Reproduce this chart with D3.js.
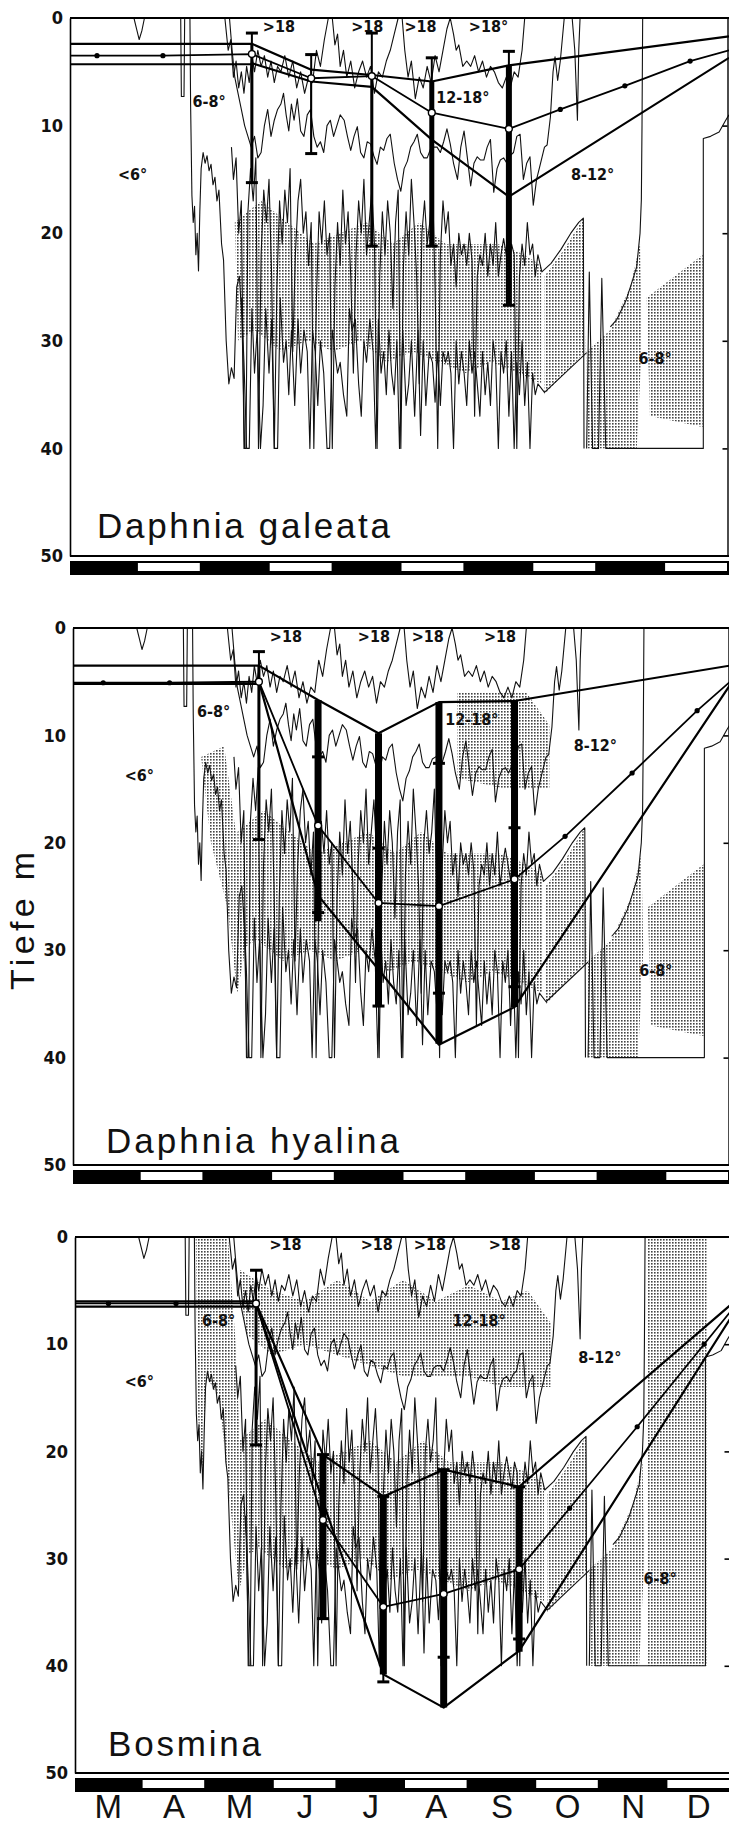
<!DOCTYPE html>
<html>
<head>
<meta charset="utf-8">
<script src="https://cdn.jsdelivr.net/npm/d3@7"></script>
<style>
  body { margin: 0; background: #fff; }
  svg { display: block; }
</style>
</head>
<body>
<div id="chart"></div>
<script>
// ---- data (month index 0 = start of March, depth in m) ----
const months = ["M", "A", "M", "J", "J", "A", "S", "O", "N", "D"];
const depthTicks = [0, 10, 20, 30, 40, 50];

// Daphnia galeata
const dates1 = [2.76, 3.66, 4.58, 5.49, 6.66];
const upper1 = [2.4, 4.8, 5.3, 5.9, 4.4];
const mean1 = [3.35, 5.6, 5.4, 8.8, 10.3];
const lower1 = [4.2, 5.9, 6.4, 11.3, 16.6];
const start1 = [2.4, 3.5, 4.3];
const end1 = [1.7, 3.0, 3.7];
const winterDots1 = [[0.41, 3.5], [1.41, 3.5]];
const autumnDots1 = [[7.44, 8.5], [8.42, 6.3], [9.41, 4.0]];
const errLo1 = [1.4, 3.4, 1.4, 3.7, 3.1];
const errHi1 = [15.3, 12.6, 21.2, 21.2, 26.7];
const thickLo1 = [2.4, 4.8, 5.3, 5.9, 4.4];
const thickHi1 = [15.3, 12.6, 21.2, 21.2, 26.7];

// Daphnia hyalina
const dates2 = [2.83, 3.73, 4.65, 5.57, 6.72];
const upper2 = [3.5, 6.7, 9.8, 6.9, 6.8];
const mean2 = [5.0, 18.4, 25.6, 25.9, 23.4];
const lower2 = [5.0, 24.9, 31.8, 38.8, 35.3];
const start2 = [3.5, 5.1, 5.2];
const end2 = [3.5, 5.0, 5.3];
const winterDots2 = [[0.46, 5.1], [1.47, 5.1]];
const autumnDots2 = [[7.49, 19.4], [8.51, 13.5], [9.5, 7.7]];
const errLo2 = [2.2, 12.0, 20.5, 12.6, 18.6];
const errHi2 = [19.7, 26.5, 35.2, 34.0, 33.4];
const thickLo2 = [3.5, 6.7, 9.8, 6.9, 6.8];
const thickHi2 = [19.7, 27.3, 35.3, 38.7, 35.3];

// Bosmina
const dates3 = [2.76, 3.78, 4.70, 5.62, 6.77];
const upper3 = [6.2, 20.3, 24.2, 21.7, 23.3];
const mean3 = [6.2, 26.4, 34.5, 33.3, 31.0];
const lower3 = [6.2, 24.7, 40.8, 43.9, 38.6];
const start3 = [6.0, 6.2, 6.5];
const end3 = [6.3, 6.9, 7.5];
const winterDots3 = [[0.51, 6.2], [1.54, 6.2]];
const autumnDots3 = [[7.54, 25.3], [8.57, 17.7], [9.59, 10.0]];
const errLo3 = [3.1, 20.3, 24.2, 21.7, 23.3];
const errHi3 = [19.4, 35.6, 41.5, 39.2, 37.5];
const thickLo3 = [6.2, 20.3, 24.2, 21.7, 23.3];
const thickHi3 = [19.4, 35.6, 40.8, 43.9, 38.7];

// isotherms (same lake temperatures under every panel)
const isoDip = [[0.97, 0], [1.01, 1], [1.05, 2.0], [1.09, 1.2], [1.13, 0]];
const isoSpike6 = [[1.68, 0], [1.69, 7.3], [1.73, 7.3], [1.74, 0]];
const iso6 = [[1.82, 0], [1.83, 8], [1.85, 16.5], [1.87, 19], [1.89, 17.5], [1.91, 22], [1.93, 20], [1.95, 23.5],
  [1.97, 18], [1.99, 14], [2.02, 12.5], [2.05, 13.5], [2.08, 12.8], [2.11, 14.2], [2.14, 13.6], [2.17, 15.5],
  [2.2, 14.8], [2.23, 17], [2.26, 16], [2.3, 21], [2.33, 22.5], [2.37, 30], [2.41, 34], [2.45, 32.5],
  [2.49, 33.5], [2.53, 25], [2.57, 24], [2.61, 28], [2.65, 40]];
const iso18 = [[2.35, 0], [2.4, 3], [2.44, 2], [2.48, 5.5], [2.52, 4], [2.56, 6.5], [2.6, 5], [2.64, 7], [2.68, 4.5],
  [2.72, 6], [2.76, 3.5], [2.8, 5], [2.85, 3], [2.9, 4.5], [2.95, 3.5], [3.0, 5.5], [3.05, 4], [3.1, 6], [3.15, 4.5],
  [3.2, 5], [3.26, 3.5], [3.32, 5.5], [3.38, 4], [3.44, 6.5], [3.5, 5], [3.56, 7], [3.62, 5.5], [3.68, 6], [3.74, 3],
  [3.8, 4.5], [3.86, 2], [3.92, 0], [3.98, 0], [4.02, 2.5], [4.06, 1.5], [4.1, 4.5], [4.15, 3], [4.2, 5.5], [4.26, 4],
  [4.32, 6.5], [4.38, 5], [4.44, 4], [4.5, 5.5], [4.56, 4.5], [4.62, 7], [4.68, 5], [4.74, 5.5], [4.8, 4], [4.86, 3],
  [4.92, 1.5], [4.98, 0], [5.04, 0], [5.08, 3], [5.13, 5.5], [5.18, 4], [5.24, 7.5], [5.3, 5.5], [5.36, 6.5],
  [5.42, 4.5], [5.48, 6], [5.54, 3.5], [5.6, 5], [5.66, 3], [5.72, 1], [5.77, 0], [5.82, 1.5], [5.86, 3], [5.9, 2.5],
  [5.96, 4.5], [6.02, 4], [6.08, 4.5], [6.14, 3.5], [6.2, 5], [6.26, 4], [6.32, 5.5], [6.38, 4.5], [6.44, 5], [6.5, 6],
  [6.56, 6.5], [6.62, 5.5], [6.68, 6.5], [6.74, 5], [6.8, 5.5], [6.86, 3], [6.9, 0]];
const iso12 = [[2.42, 0], [2.46, 3], [2.5, 5.5], [2.55, 7], [2.6, 8.5], [2.65, 10], [2.7, 11], [2.75, 12], [2.8, 11],
  [2.85, 13], [2.9, 12.5], [2.95, 10], [3.0, 8.5], [3.05, 11], [3.1, 9.5], [3.15, 8.5], [3.2, 8], [3.24, 7], [3.28, 9],
  [3.32, 10.5], [3.36, 8], [3.4, 9.5], [3.45, 7.5], [3.5, 10.5], [3.55, 11], [3.6, 9], [3.65, 8.5], [3.7, 11],
  [3.75, 12], [3.8, 11.5], [3.85, 12.5], [3.9, 10], [3.95, 9.5], [4.0, 11], [4.05, 10], [4.1, 9], [4.16, 9.5],
  [4.21, 11], [4.26, 12.3], [4.31, 11], [4.36, 10.1], [4.41, 12.5], [4.46, 13], [4.51, 11.5], [4.56, 11.7],
  [4.61, 12.8], [4.66, 13.6], [4.71, 12], [4.76, 12.3], [4.81, 11.2], [4.86, 10.8], [4.92, 13.5], [4.97, 15],
  [5.02, 16.1], [5.07, 14], [5.12, 13.3], [5.17, 12], [5.22, 11.5], [5.27, 10.8], [5.32, 12.5], [5.37, 13],
  [5.42, 13], [5.47, 12.2], [5.52, 12], [5.57, 12], [5.62, 12.5], [5.67, 11.5], [5.72, 10.3], [5.77, 11.7],
  [5.82, 13.5], [5.88, 15], [5.93, 12], [5.98, 10.5], [6.03, 13], [6.08, 15.6], [6.13, 13.5], [6.18, 12.9],
  [6.23, 13.2], [6.28, 13.2], [6.33, 12], [6.38, 11.3], [6.43, 16.2], [6.48, 14], [6.53, 13.2], [6.58, 13],
  [6.63, 13.5], [6.68, 12.8], [6.73, 12.5], [6.78, 11], [6.83, 10.8], [6.88, 15], [6.93, 13.5], [6.98, 12.9],
  [7.03, 17.4], [7.08, 15], [7.14, 13.5], [7.2, 12], [7.24, 11.8], [7.29, 9.2], [7.33, 5], [7.36, 3.6], [7.4, 5.8],
  [7.44, 4], [7.5, 0]];
const isoSpike12 = [[7.62, 0], [7.66, 3], [7.7, 9.5], [7.72, 3], [7.74, 0]];
const iso10 = [[2.45, 12], [2.48, 15], [2.52, 13], [2.56, 20], [2.6, 17], [2.64, 40], [2.67, 40], [2.7, 18], [2.74, 14],
  [2.78, 17], [2.82, 13], [2.86, 40], [2.9, 22], [2.94, 16], [2.98, 19], [3.02, 15], [3.06, 24], [3.1, 40], [3.14, 25],
  [3.18, 17], [3.22, 21], [3.26, 16], [3.3, 19], [3.34, 14], [3.38, 31], [3.42, 22], [3.46, 17], [3.5, 15], [3.54, 20],
  [3.58, 18], [3.62, 23], [3.66, 19], [3.7, 40], [3.74, 26], [3.78, 18], [3.82, 21], [3.86, 17], [3.9, 22], [3.94, 20],
  [3.98, 40], [4.02, 25], [4.06, 19], [4.1, 23], [4.14, 16], [4.18, 21], [4.22, 18], [4.26, 24], [4.3, 33], [4.34, 22],
  [4.38, 17], [4.42, 20], [4.46, 15], [4.5, 22], [4.54, 19], [4.58, 16], [4.62, 21], [4.66, 40], [4.7, 24], [4.74, 18],
  [4.78, 22], [4.82, 17], [4.86, 20], [4.9, 27], [4.94, 19], [4.98, 16], [5.02, 40], [5.06, 23], [5.1, 18], [5.14, 22],
  [5.18, 15], [5.22, 19], [5.26, 24], [5.3, 34], [5.34, 20], [5.38, 17], [5.42, 21], [5.46, 19], [5.5, 15], [5.54, 25],
  [5.58, 40], [5.62, 22], [5.66, 17], [5.7, 20], [5.74, 18], [5.78, 23], [5.82, 21], [5.86, 25], [5.9, 20], [5.94, 22],
  [5.98, 21], [6.02, 23], [6.06, 20], [6.1, 22.5], [6.14, 37], [6.18, 24], [6.22, 22], [6.26, 23], [6.3, 20], [6.34, 24],
  [6.38, 21], [6.42, 23], [6.46, 19], [6.5, 24], [6.54, 22], [6.58, 20.5], [6.62, 22], [6.66, 23.5], [6.7, 21],
  [6.74, 22], [6.78, 40], [6.82, 24], [6.86, 21], [6.9, 23], [6.94, 19], [6.98, 22], [7.02, 21], [7.06, 24], [7.1, 22],
  [7.16, 23.6], [7.3, 22.8], [7.45, 21.5], [7.6, 20], [7.72, 19], [7.79, 18.6], [7.8, 40]];
const iso8 = [[2.6, 26], [2.64, 32], [2.68, 40], [2.72, 40], [2.76, 27], [2.8, 33], [2.84, 29], [2.89, 40], [2.93, 36],
  [2.97, 27], [3.02, 33], [3.06, 28], [3.1, 40], [3.15, 40], [3.19, 26], [3.24, 32], [3.28, 30], [3.32, 35], [3.36, 29],
  [3.41, 36], [3.46, 28], [3.5, 33], [3.55, 29], [3.6, 31], [3.64, 40], [3.68, 29], [3.72, 31], [3.76, 36], [3.8, 30],
  [3.85, 33], [3.9, 40], [3.94, 40], [3.98, 29], [4.02, 31], [4.06, 33], [4.1, 32], [4.15, 35], [4.2, 37], [4.24, 27],
  [4.28, 29], [4.33, 28], [4.38, 34], [4.42, 37], [4.46, 30], [4.5, 32], [4.55, 28], [4.6, 31], [4.64, 40], [4.68, 28],
  [4.72, 33], [4.76, 31], [4.8, 35], [4.84, 29], [4.88, 33], [4.92, 35], [4.96, 30], [5.0, 40], [5.05, 29], [5.1, 36],
  [5.14, 34], [5.18, 30], [5.23, 37], [5.28, 29], [5.32, 38.8], [5.36, 30], [5.4, 36], [5.45, 31], [5.5, 32],
  [5.54, 35.7], [5.58, 31], [5.62, 36], [5.66, 31], [5.7, 32], [5.74, 31], [5.78, 33], [5.82, 40], [5.86, 30],
  [5.9, 34], [5.94, 31], [5.98, 33], [6.02, 36], [6.06, 30], [6.1, 33], [6.14, 31], [6.18, 34], [6.22, 37], [6.26, 31],
  [6.3, 35], [6.34, 32], [6.38, 36], [6.42, 30], [6.46, 32], [6.5, 40], [6.54, 31], [6.58, 33], [6.62, 30], [6.66, 37],
  [6.7, 31], [6.74, 40], [6.78, 32], [6.82, 35], [6.86, 30], [6.9, 36], [6.94, 32], [6.98, 40], [7.02, 33], [7.06, 35],
  [7.1, 34], [7.2, 34.8], [7.84, 31.1]];
const isoRightFloor = [[7.84, 40], [7.88, 23.6], [7.93, 40], [8.02, 40], [8.07, 24.2], [8.13, 40], [8.2, 40],
  [9.61, 40], [9.61, 11.2], [9.72, 11], [9.85, 10.6], [9.95, 9.5], [10, 9]];
const isoRightCurve = [[8.2, 28.7], [8.3, 28], [8.44, 26.2], [8.53, 24.5], [8.6, 23.1], [8.65, 20], [8.67, 16.9],
  [8.68, 10], [8.69, 0]];

// stippled (shaded) temperature bands
const stipDeep = [[2.5, 19], [2.9, 17], [3.3, 19], [3.7, 21], [4.1, 20], [4.5, 19], [4.9, 21], [5.3, 19], [5.7, 21],
  [6.1, 21], [6.5, 21], [6.9, 22], [7.15, 23], [7.15, 34], [6.8, 33], [6.4, 32], [6.0, 33], [5.6, 32], [5.2, 31],
  [4.8, 32], [4.4, 30], [4.0, 31], [3.6, 30], [3.2, 31], [2.8, 29], [2.55, 30]];
const stipLeftTop = [[1.84, 0], [2.33, 0], [2.45, 10], [2.55, 24], [2.62, 30], [2.5, 33], [2.35, 24], [2.2, 15],
  [2.0, 13], [1.95, 22], [1.88, 17]];
const stipLeftLow = [[1.95, 12], [2.3, 11], [2.5, 20], [2.62, 30], [2.5, 34], [2.35, 26], [2.1, 20]];
const stipMid = [[2.5, 3], [3.0, 5], [3.5, 6], [4.0, 4], [4.5, 6], [5.0, 4], [5.5, 6], [6.0, 4.5], [6.5, 6], [6.9, 5],
  [7.25, 8], [7.25, 14], [6.9, 14], [6.5, 14], [6.0, 13], [5.5, 13], [5.0, 13], [4.5, 12], [4.0, 11], [3.5, 10],
  [3.0, 11], [2.6, 9]];
const stipMidSmall = [[5.85, 6], [6.9, 6], [7.25, 9], [7.25, 15], [6.6, 15], [5.85, 14]];
const stipRightCol = [[8.72, 0], [9.63, 0], [9.63, 40], [8.72, 40]];
const stipRightPatch = [[8.75, 26], [9.6, 22], [9.6, 38], [8.8, 37]];
const stipRightLow = [[7.2, 24], [7.5, 21.5], [7.79, 18.6], [7.82, 31], [7.2, 35]];
const stipRightLow2 = [[7.84, 31], [8.2, 29], [8.5, 25], [8.65, 21], [8.68, 30], [8.6, 40], [8.2, 40], [7.84, 40]];

const tempLabels1 = [["<6°", 0.95, 14.5], ["6-8°", 2.11, 7.8], [">18", 3.17, 0.8], [">18", 4.51, 0.8],
  [">18", 5.32, 0.8], [">18°", 6.35, 0.8], ["12-18°", 5.96, 7.4], ["8-12°", 7.93, 14.5], ["6-8°", 8.88, 31.6]];
const tempLabels2 = [["<6°", 1.01, 13.7], ["6-8°", 2.14, 7.8], [">18", 3.24, 0.8], [">18", 4.58, 0.8],
  [">18", 5.4, 0.8], [">18", 6.5, 0.8], ["12-18°", 6.07, 8.5], ["8-12°", 7.95, 10.9], ["6-8°", 8.87, 31.9]];
const tempLabels3 = [["<6°", 0.98, 13.5], ["6-8°", 2.19, 7.8], [">18", 3.21, 0.7], [">18", 4.6, 0.7],
  [">18", 5.41, 0.7], [">18", 6.55, 0.7], ["12-18°", 6.16, 7.8], ["8-12°", 8.0, 11.2], ["6-8°", 8.92, 31.9]];

// ---- layout ----
const W = 729, H = 1826;
const panels = [
  { name: "Daphnia galeata", x0: 70, x1: 729, y0: 18, y1: 556, nameX: 97, nameY: 538, nameW: 293,
    dates: dates1, upper: upper1, mean: mean1, lower: lower1, start: start1, end: end1,
    winter: winterDots1, autumn: autumnDots1, errLo: errLo1, errHi: errHi1, thickLo: thickLo1, thickHi: thickHi1,
    barW: [3, 1.6, 3, 5, 6], labels: tempLabels1,
    stipple: [stipDeep, stipRightLow, stipRightLow2, stipRightPatch] },
  { name: "Daphnia hyalina", x0: 73, x1: 730, y0: 628, y1: 1165, nameX: 106, nameY: 1153, nameW: 293,
    dates: dates2, upper: upper2, mean: mean2, lower: lower2, start: start2, end: end2,
    winter: winterDots2, autumn: autumnDots2, errLo: errLo2, errHi: errHi2, thickLo: thickLo2, thickHi: thickHi2,
    barW: [3, 7, 7, 7, 7], labels: tempLabels2,
    stipple: [stipDeep, stipLeftLow, stipMidSmall, stipRightLow, stipRightLow2, stipRightPatch] },
  { name: "Bosmina", x0: 75, x1: 731, y0: 1237, y1: 1773, nameX: 108, nameY: 1756, nameW: 153,
    dates: dates3, upper: upper3, mean: mean3, lower: lower3, start: start3, end: end3,
    winter: winterDots3, autumn: autumnDots3, errLo: errLo3, errHi: errHi3, thickLo: thickLo3, thickHi: thickHi3,
    barW: [3, 7, 7, 7, 7], labels: tempLabels3,
    stipple: [stipDeep, stipLeftTop, stipMid, stipRightCol, stipRightLow, stipRightLow2] }
];
const isotherms = [isoDip, isoSpike6, iso6, iso18, iso12, isoSpike12, iso10, iso8, isoRightFloor, isoRightCurve];

const svg = d3.select("#chart").append("svg")
  .attr("width", W)
  .attr("height", H)
  .style("background", "#fff");

// stipple pattern
const defs = svg.append("defs");
const pat = defs.append("pattern")
  .attr("id", "stip")
  .attr("width", 3)
  .attr("height", 3)
  .attr("patternUnits", "userSpaceOnUse");
pat.append("rect").attr("width", 1.6).attr("height", 1.6).attr("fill", "#444");

const labelFont = "'Liberation Sans Narrow', 'DejaVu Sans Condensed', sans-serif";

panels.forEach((p, pi) => {
  const x = d3.scaleLinear().domain([0, 10]).range([p.x0, p.x1]);
  const y = d3.scaleLinear().domain([0, 50]).range([p.y0, p.y1]);
  const line = d3.line().x(d => x(d[0])).y(d => y(d[1]));
  const g = svg.append("g");

  // shaded bands
  g.selectAll("path.stip")
    .data(p.stipple)
    .enter()
    .append("path")
    .attr("class", "stip")
    .attr("d", d => line(d) + "Z")
    .attr("fill", "url(#stip)")
    .attr("stroke", "none");

  // isotherms
  g.selectAll("path.iso")
    .data(isotherms)
    .enter()
    .append("path")
    .attr("class", "iso")
    .attr("d", line)
    .attr("fill", "none")
    .attr("stroke", "#111")
    .attr("stroke-width", 1.1)
    .attr("stroke-linejoin", "round");

  // frame
  g.append("line")
    .attr("x1", x(0)).attr("x2", x(10))
    .attr("y1", y(0)).attr("y2", y(0))
    .attr("stroke", "#000").attr("stroke-width", 2.2);
  g.append("line")
    .attr("x1", x(0)).attr("x2", x(10))
    .attr("y1", y(50)).attr("y2", y(50))
    .attr("stroke", "#000").attr("stroke-width", 2.2);

  const yAxis = g.append("g")
    .attr("transform", `translate(${x(0)},0)`)
    .call(d3.axisLeft(y).tickValues(depthTicks).tickSize(0).tickSizeOuter(0).tickPadding(7));
  yAxis.select(".domain").attr("stroke", "#000").attr("stroke-width", 1.6);
  yAxis.selectAll("text")
    .attr("font-family", "'DejaVu Sans Condensed', sans-serif")
    .attr("font-weight", "bold")
    .attr("font-size", 18)
    .attr("fill", "#111");

  const rAxis = g.append("g")
    .attr("transform", `translate(${x(10) - 1.5},0)`)
    .call(d3.axisLeft(y).tickValues([10, 20, 30, 40]).tickSize(5).tickSizeOuter(0).tickFormat(""));
  rAxis.select(".domain").attr("stroke", "#000").attr("stroke-width", 1.4);
  rAxis.selectAll(".tick line").attr("stroke", "#000").attr("stroke-width", 1.6);

  // month bar
  const barTop = y(50) + 5;
  g.append("rect")
    .attr("x", x(0)).attr("y", barTop)
    .attr("width", x(10) - x(0)).attr("height", 14)
    .attr("fill", "#000");
  g.selectAll("rect.wm")
    .data(d3.range(1, 10, 2))
    .enter()
    .append("rect")
    .attr("class", "wm")
    .attr("x", d => x(d) + 2)
    .attr("y", barTop + 2)
    .attr("width", d => x(d + 1) - x(d) - 4)
    .attr("height", 8)
    .attr("fill", "#fff");

  // temperature labels
  g.selectAll("text.temp")
    .data(p.labels)
    .enter()
    .append("text")
    .attr("class", "temp")
    .attr("x", d => x(d[1]))
    .attr("y", d => y(d[2]))
    .attr("text-anchor", "middle")
    .attr("dominant-baseline", "central")
    .attr("font-family", labelFont)
    .attr("font-weight", "bold")
    .attr("font-size", 16)
    .attr("fill", "#111")
    .text(d => d[0]);

  // migration lines
  const pts = arr => p.dates.map((m, i) => [m, arr[i]]);
  const upperLine = [[0, p.start[0]], [p.dates[0], p.start[0]]].concat(pts(p.upper), [[10, p.end[0]]]);
  const meanLine = [[0, p.start[1]]].concat(p.winter, pts(p.mean), p.autumn, [[10, p.end[1]]]);
  const lowerLine = [[0, p.start[2]], [p.dates[0], p.start[2]]].concat(pts(p.lower), [[10, p.end[2]]]);

  g.selectAll("path.mig")
    .data([upperLine, lowerLine, meanLine])
    .enter()
    .append("path")
    .attr("class", "mig")
    .attr("d", line)
    .attr("fill", "none")
    .attr("stroke", "#000")
    .attr("stroke-width", (d, i) => i === 2 ? 1.8 : 2.2)
    .attr("stroke-linejoin", "round");

  // vertical range bars
  const bars = p.dates.map((m, i) => ({ m, lo: p.errLo[i], hi: p.errHi[i], tlo: p.thickLo[i], thi: p.thickHi[i], w: p.barW[i] }));
  const bg = g.selectAll("g.bar").data(bars).enter().append("g").attr("class", "bar");
  bg.append("line")
    .attr("x1", d => x(d.m)).attr("x2", d => x(d.m))
    .attr("y1", d => y(d.lo)).attr("y2", d => y(d.hi))
    .attr("stroke", "#000").attr("stroke-width", 2);
  bg.append("line")
    .attr("x1", d => x(d.m)).attr("x2", d => x(d.m))
    .attr("y1", d => y(d.tlo)).attr("y2", d => y(d.thi))
    .attr("stroke", "#000").attr("stroke-width", d => d.w);
  bg.selectAll("line.cap")
    .data(d => [[d.m, d.lo], [d.m, d.hi]])
    .enter()
    .append("line")
    .attr("class", "cap")
    .attr("x1", d => x(d[0]) - 6).attr("x2", d => x(d[0]) + 6)
    .attr("y1", d => y(d[1])).attr("y2", d => y(d[1]))
    .attr("stroke", "#000").attr("stroke-width", 3);

  // points
  g.selectAll("circle.dot")
    .data(p.winter.concat(p.autumn))
    .enter()
    .append("circle")
    .attr("class", "dot")
    .attr("cx", d => x(d[0])).attr("cy", d => y(d[1]))
    .attr("r", 2.6)
    .attr("fill", "#000");
  g.selectAll("circle.mean")
    .data(pts(p.mean))
    .enter()
    .append("circle")
    .attr("class", "mean")
    .attr("cx", d => x(d[0])).attr("cy", d => y(d[1]))
    .attr("r", 3.4)
    .attr("fill", "#fff")
    .attr("stroke", "#000")
    .attr("stroke-width", 1.4);

  // species name
  g.append("text")
    .attr("x", p.nameX)
    .attr("y", p.nameY)
    .attr("font-family", "'Liberation Sans', Arial, sans-serif")
    .attr("font-size", 35)
    .attr("textLength", p.nameW)
    .attr("lengthAdjust", "spacing")
    .attr("fill", "#111")
    .text(p.name);

  // month letters under the last panel
  if (pi === panels.length - 1) {
    const mAxis = g.append("g")
      .attr("transform", `translate(0,${p.y1 + 20})`)
      .call(d3.axisBottom(x).tickValues(d3.range(0.5, 10, 1)).tickSize(0).tickPadding(2)
        .tickFormat((d, i) => months[i]));
    mAxis.select(".domain").remove();
    mAxis.selectAll("text")
      .attr("font-family", "'Liberation Sans', Arial, sans-serif")
      .attr("font-size", 33)
      .attr("fill", "#111");
  }
});

// y axis title
svg.append("text")
  .attr("transform", "translate(22,921) rotate(-90)")
  .attr("text-anchor", "middle")
  .attr("dominant-baseline", "central")
  .attr("font-family", "'Liberation Sans', Arial, sans-serif")
  .attr("font-size", 34)
  .attr("textLength", 138)
  .attr("lengthAdjust", "spacing")
  .attr("fill", "#111")
  .text("Tiefe m");
</script>
</body>
</html>
